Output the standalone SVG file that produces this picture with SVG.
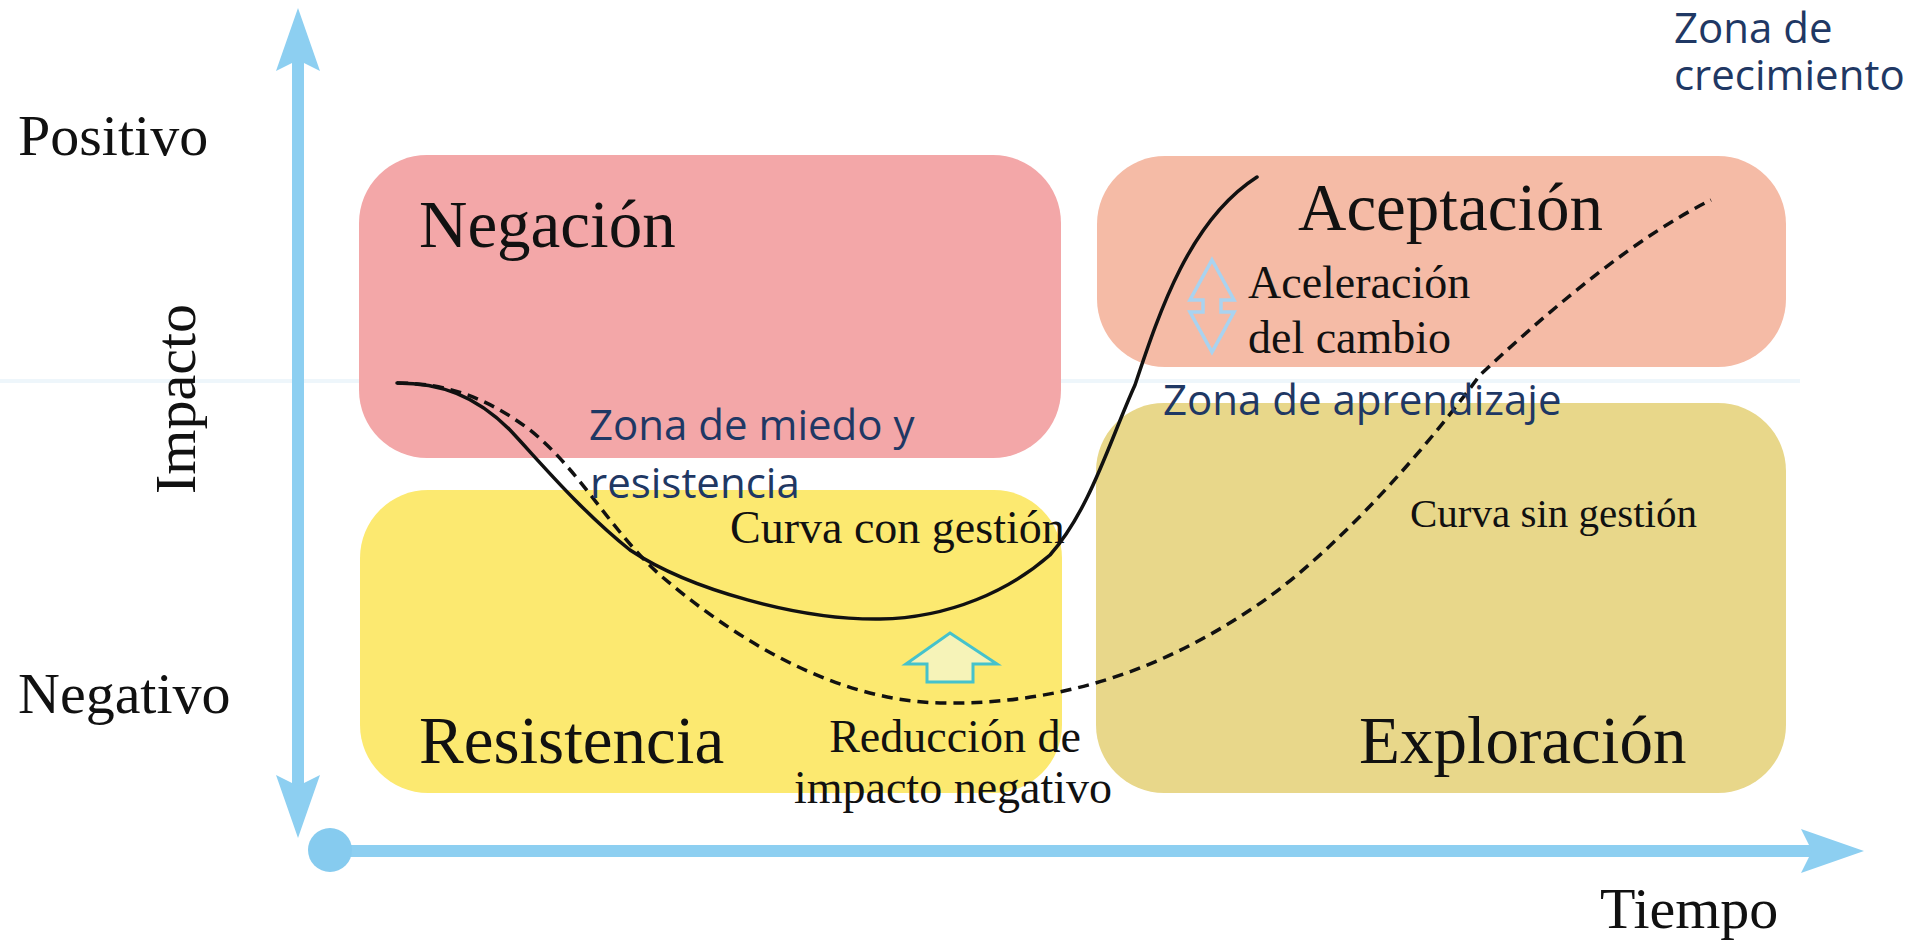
<svg xmlns="http://www.w3.org/2000/svg" width="1914" height="943" viewBox="0 0 1914 943">
<style>
.serif{font-family:"Liberation Serif","Times New Roman",serif;fill:#111;}
.big{font-size:67px;}
.axis-t{font-size:58px;}
.mid{font-size:46px;}
.zone{font-family:"Open Sans","Noto Sans",sans-serif;font-size:42px;fill:#1F3864;}
.axis{stroke:#8DCFF1;stroke-width:12;fill:none;}
.ahead{fill:#8DCFF1;}
.curve{fill:none;stroke:#111;stroke-width:3.5;stroke-linecap:round;}
.dash{stroke-dasharray:11 7;stroke-linecap:butt;}
</style>
<rect width="1914" height="943" fill="#ffffff"/>
<line x1="0" y1="381" x2="1800" y2="381" stroke="#EEF6FB" stroke-width="4"/>

<g id="box-negacion">
  <rect x="359" y="155" width="702" height="303" rx="68" fill="#F3A7A8"/>
  <text class="serif big" x="419" y="247">Negación</text>
</g>
<g id="box-aceptacion">
  <rect x="1097" y="156" width="689" height="211" rx="68" fill="#F5BBA6"/>
  <text class="serif big" x="1298" y="230">Aceptación</text>
</g>
<g id="box-resistencia">
  <rect x="360" y="490" width="702" height="303" rx="68" fill="#FCE970"/>
  <text class="serif big" x="419" y="763">Resistencia</text>
</g>
<g id="box-exploracion">
  <rect x="1096" y="403" width="690" height="390" rx="68" fill="#E8D78A"/>
  <text class="serif big" x="1359" y="763">Exploración</text>
</g>

<g id="axes">
  <line class="axis" x1="298" y1="60" x2="298" y2="786"/>
  <polygon class="ahead" points="298,8 320,71 298,60 276,71"/>
  <polygon class="ahead" points="298,838 320,775 298,786 276,775"/>
  <line class="axis" x1="330" y1="851" x2="1812" y2="851"/>
  <polygon class="ahead" points="1864,851 1801,829 1812,851 1801,873"/>
  <circle cx="330" cy="850" r="22" fill="#86CBEF"/>
</g>

<g id="axis-labels">
  <text class="serif axis-t" x="18" y="155">Positivo</text>
  <text class="serif axis-t" x="18" y="713">Negativo</text>
  <text class="serif axis-t" x="1600" y="928">Tiempo</text>
  <text class="serif axis-t" text-anchor="middle" transform="translate(195,399) rotate(-90)">Impacto</text>
</g>

<g id="connectors">
  <path id="curva-sin-gestion" class="curve dash" d="M397,383 C450,383 490,400 530,430 C580,470 610,530 660,575 C730,635 830,700 940,703 C1060,705 1160,670 1250,610 C1320,565 1410,470 1480,375 C1560,300 1640,235 1711,200"/>
  <path id="curva-con-gestion" class="curve" d="M397,383 C440,383 475,395 510,430 C540,462 580,510 630,550 C690,590 800,620 880,619 C950,618 1010,590 1050,555 C1090,510 1110,440 1135,385 C1160,310 1190,220 1257,177"/>
  <polygon id="flecha-reduccion" points="950,633 997,664 973,664 973,682 927,682 927,664 906,664" fill="#F6F3B8" stroke="#45C2CC" stroke-width="3" stroke-linejoin="miter"/>
  <polygon id="flecha-aceleracion" points="1212,260 1234,300 1221,300 1221,312 1234,312 1212,352 1190,312 1203,312 1203,300 1190,300" fill="none" stroke="#A9D3F0" stroke-width="3.5"/>
</g>

<g id="labels">
  <text class="serif mid" x="730" y="543">Curva con gestión</text>
  <text class="serif" style="font-size:41px" x="1410" y="527">Curva sin gestión</text>
  <text class="serif mid" x="1248" y="298">Aceleración</text>
  <text class="serif mid" x="1248" y="353">del cambio</text>
  <text class="serif mid" text-anchor="middle" x="955" y="752">Reducción de</text>
  <text class="serif mid" text-anchor="middle" x="953" y="803">impacto negativo</text>
  <text class="zone" x="589" y="440">Zona de miedo y<tspan x="590" y="498">resistencia</tspan></text>
  <text class="zone" x="1163" y="415">Zona de aprendizaje</text>
  <text class="zone" x="1674" y="43">Zona de<tspan x="1674" y="90">crecimiento</tspan></text>
</g>
</svg>
